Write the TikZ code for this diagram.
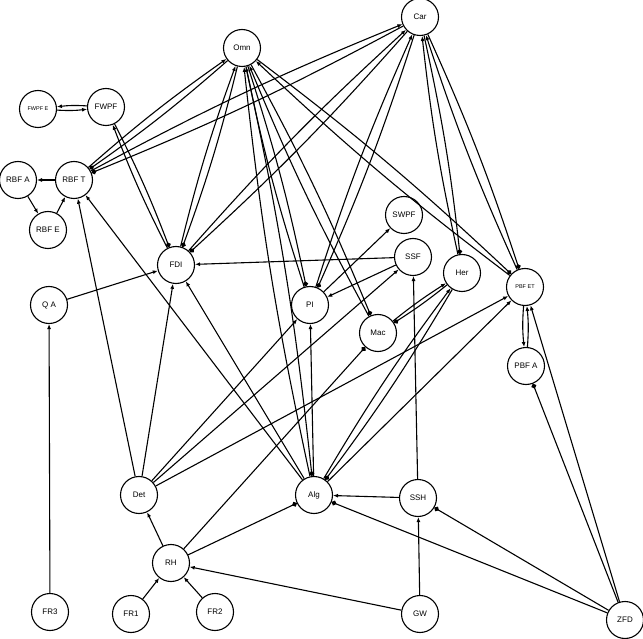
\documentclass[tikz,border=0pt]{standalone}
\usepackage{fontspec}
\setmainfont{Liberation Sans}
\usetikzlibrary{arrows.meta}
\begin{document}
\begin{tikzpicture}[x=1pt,y=-1pt,line width=1.1pt]

\tikzset{vertex/.style = {shape=circle,draw,fill=white,minimum size=37pt,inner sep=0pt,font=\fontsize{8}{9}\selectfont}}
\tikzset{small/.style = {font=\fontsize{5.5}{6}\selectfont}}
\tikzset{edge/.style = {-{Latex[length=5pt,width=4pt]}}}
\tikzset{dotted edge/.style = {-{Circle[length=5pt]}}}
\newcommand{\twin}[2]{\draw[edge] (#1) to[bend left=3] (#2);
  \draw[dotted edge] (#2) to[bend left=3] (#1);}
\useasboundingbox (0,0) rectangle (643,639);

% vertices
\node[vertex] (car) at (420,17) {Car};
\node[vertex] (omn) at (242,48) {Omn};
\node[vertex] (fwpf) at (106,107) {FWPF};
\node[vertex,small] (fwpfe) at (38,109) {FWPF E};
\node[vertex] (rbfa) at (18,180) {RBF A};
\node[vertex] (rbft) at (74,180) {RBF T};
\node[vertex] (rbfe) at (48,230) {RBF E};
\node[vertex] (swpf) at (404,215) {SWPF};
\node[vertex] (fdi) at (176,265) {FDI};
\node[vertex] (ssf) at (413,257) {SSF};
\node[vertex] (her) at (462,273) {Her};
\node[vertex,small] (pbfet) at (525,287) {PBF ET};
\node[vertex] (qa) at (49,305) {Q A};
\node[vertex] (pi) at (310,305) {PI};
\node[vertex] (mac) at (378,333) {Mac};
\node[vertex] (pbfa) at (526,366) {PBF A};
\node[vertex] (det) at (139,495) {Det};
\node[vertex] (alg) at (314,495) {Alg};
\node[vertex] (ssh) at (418,498) {SSH};
\node[vertex] (rh) at (171,563) {RH};
\node[vertex] (fr3) at (50,612) {FR3};
\node[vertex] (fr1) at (131,614) {FR1};
\node[vertex] (fr2) at (215,612) {FR2};
\node[vertex] (gw) at (420,614) {GW};
\node[vertex] (zfd) at (625,620) {ZFD};

%edges
\draw[edge] (fwpf) to[bend right=5] (fwpfe);
\draw[edge] (fwpfe) to[bend right=5] (fwpf);
\draw[edge] (rbft) to (rbfa);
\draw[edge] (rbfa) to (rbfe);
\draw[edge] (rbfe) to (rbft);
\twin{rbft}{omn}
\twin{rbft}{car}
\twin{fdi}{fwpf}
\twin{fdi}{omn}
\twin{fdi}{car}
\twin{pi}{omn}
\twin{alg}{omn}
\twin{mac}{omn}
\twin{pbfet}{omn}
\twin{pi}{car}
\twin{her}{car}
\twin{pbfet}{car}
\twin{alg}{her}
\twin{mac}{her}
\draw[edge] (ssf) to (fdi);
\draw[edge] (qa) to (fdi);
\draw[edge] (det) to (fdi);
\draw[edge] (alg) to (fdi);
\draw[edge] (det) to (rbft);
\draw[edge] (alg) to (rbft);
\draw[edge] (pi) to (swpf);
\draw[edge] (ssf) to (pi);
\draw[edge] (det) to (pi);
\draw[edge] (det) to (ssf);
\draw[edge] (det) to (pbfet);
\draw[edge] (alg) to (pi);
\draw[edge] (alg) to (pbfet);
\draw[dotted edge] (rh) to (mac);
\draw[edge] (pbfet) to[bend right=5] (pbfa);
\draw[edge] (pbfa) to[bend right=5] (pbfet);
\draw[dotted edge] (zfd) to (pbfa);
\draw[edge] (zfd) to (pbfet);
\draw[dotted edge] (zfd) to (ssh);
\draw[dotted edge] (zfd) to (alg);
\draw[edge] (ssh) to (alg);
\draw[edge] (ssh) to (ssf);
\draw[edge] (gw) to (ssh);
\draw[edge] (gw) to (rh);
\draw[edge] (fr1) to (rh);
\draw[edge] (fr2) to (rh);
\draw[edge] (rh) to (det);
\draw[dotted edge] (rh) to (alg);
\draw[edge] (fr3) to (qa);

\end{tikzpicture}
\end{document}
